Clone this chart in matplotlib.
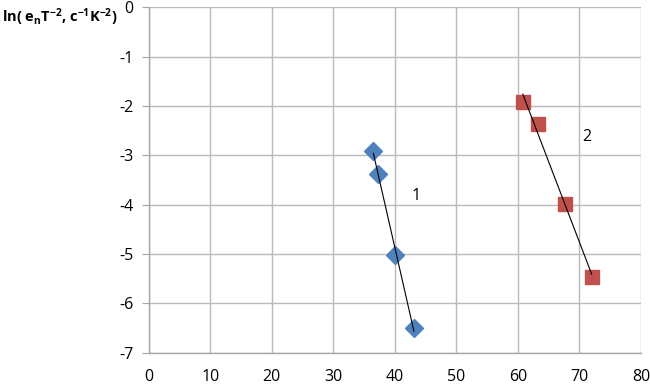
import numpy as np
import matplotlib
matplotlib.use("Agg")
import matplotlib.pyplot as plt

plt.rcParams['font.family'] = ['Open Sans', 'DejaVu Sans']
plt.rcParams['mathtext.fontset'] = 'custom'
plt.rcParams['mathtext.rm'] = 'Open Sans'
plt.rcParams['mathtext.it'] = 'Open Sans'
plt.rcParams['mathtext.bf'] = 'Open Sans:bold'
plt.rcParams['axes.unicode_minus'] = False

x1 = [36.5, 37.3, 40.0, 43.1]
y1 = [-2.91, -3.37, -5.02, -6.49]
x2 = [60.8, 63.2, 67.7, 72.0]
y2 = [-1.91, -2.36, -3.99, -5.46]
labels = ["1", "2"]
label_pos = [(43.5, -3.83), (71.2, -2.63)]
xticks = list(range(0, 81, 10))
yticks = list(range(-7, 1))

fig = plt.figure(figsize=(6.5, 3.87), dpi=100)
ax = fig.add_axes([0.229, 0.0886, 0.757, 0.8925])

ax.set_xlim(0, 80)
ax.set_ylim(-7, 0)
ax.set_xticks(xticks)
ax.set_yticks(yticks)
ax.grid(True, color='#bababa', linewidth=1.0)
ax.set_axisbelow(True)
for s in ['top', 'right']:
    ax.spines[s].set_visible(False)
for s in ['left', 'bottom']:
    ax.spines[s].set_color('#a6a6a6')
    ax.spines[s].set_linewidth(1.0)
ax.tick_params(axis='x', length=0, pad=12, labelsize=11.5, colors='#000000')
ax.tick_params(axis='y', length=5, color='#a6a6a6', pad=6, labelsize=11.5)

for xs, ys in [(x1, y1), (x2, y2)]:
    p = np.polyfit(xs, ys, 1)
    xx = np.array([min(xs), max(xs)])
    ax.plot(xx, np.polyval(p, xx), color='black', linewidth=0.8, zorder=4)

ax.plot(x1, y1, linestyle='none', marker='D', markersize=9, color='#4F81BD',
        markeredgecolor='#4F81BD', zorder=3)
ax.plot(x2, y2, linestyle='none', marker='s', markersize=9.5, color='#C0504D',
        markeredgecolor='#C0504D', zorder=3)

for t, (lx, ly) in zip(labels, label_pos):
    ax.text(lx, ly, t, fontsize=11.5, ha='center', va='center')

fig.text(0.003, 1 - 17 / 387, r'ln( e$_\mathbf{n}$T$^\mathbf{-2}$, c$^\mathbf{-1}$K$^\mathbf{-2}$)',
         fontsize=10.5, fontweight='bold', ha='left', va='center')

fig.savefig('out.png', dpi=100)
